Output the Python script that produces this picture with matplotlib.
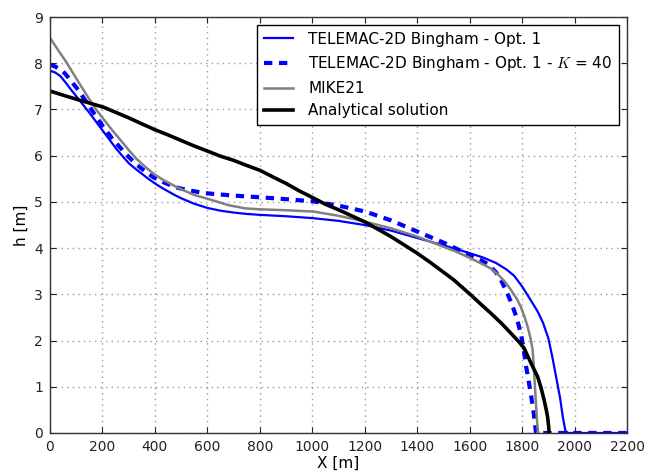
import matplotlib
matplotlib.use("Agg")
import matplotlib.pyplot as plt

plt.rcParams["font.family"] = "DejaVu Sans"
plt.rcParams["mathtext.fontset"] = "cm"

# Water depth profiles h(X)
x_opt1 = [0, 20, 40, 60, 80, 100, 125, 150, 175, 200, 225, 250, 275, 300, 325, 350, 375,
          400, 425, 450, 475, 500, 550, 600, 650, 700, 750, 800, 900, 1000, 1100, 1200,
          1300, 1400, 1450, 1500, 1550, 1600, 1650, 1700, 1740, 1770, 1800, 1830, 1860,
          1880, 1900, 1915, 1930, 1945, 1955, 1965, 1975, 2200]
h_opt1 = [7.84, 7.80, 7.72, 7.58, 7.43, 7.29, 7.11, 6.93, 6.74, 6.55, 6.36, 6.17, 6.00,
          5.84, 5.72, 5.61, 5.50, 5.40, 5.31, 5.23, 5.15, 5.08, 4.96, 4.87, 4.81, 4.77,
          4.74, 4.72, 4.69, 4.65, 4.59, 4.50, 4.38, 4.22, 4.14, 4.06, 3.98, 3.89, 3.80,
          3.68, 3.54, 3.40, 3.17, 2.90, 2.62, 2.38, 2.05, 1.65, 1.20, 0.75, 0.35, 0.05,
          0.0, 0.0]

x_k40 = [0, 20, 40, 57, 80, 108, 140, 172, 200, 236, 270, 299, 330, 363, 395, 427, 460,
         490, 540, 592, 650, 719, 802, 900, 1006, 1100, 1203, 1300, 1400, 1500, 1560,
         1600, 1640, 1670, 1700, 1720, 1740, 1760, 1780, 1795, 1805, 1815, 1825, 1835,
         1845, 1853, 2200]
h_k40 = [7.97, 7.93, 7.86, 7.78, 7.62, 7.42, 7.15, 6.88, 6.65, 6.38, 6.16, 5.98, 5.81,
         5.66, 5.53, 5.44, 5.36, 5.30, 5.24, 5.19, 5.16, 5.13, 5.10, 5.06, 5.01, 4.92,
         4.79, 4.60, 4.36, 4.12, 3.96, 3.86, 3.75, 3.65, 3.48, 3.30, 3.07, 2.80, 2.48,
         2.15, 1.85, 1.45, 1.12, 0.78, 0.40, 0.0, 0.0]

x_mike = [0, 20, 40, 57, 80, 108, 140, 172, 200, 236, 270, 299, 330, 363, 395, 427, 460,
          490, 550, 618, 680, 745, 800, 900, 1006, 1100, 1203, 1300, 1400, 1500, 1550,
          1604, 1650, 1681, 1710, 1735, 1757, 1780, 1795, 1810, 1821, 1832, 1840, 1845,
          1849, 1853, 1857, 1861]
h_mike = [8.55, 8.38, 8.21, 8.07, 7.86, 7.60, 7.31, 7.03, 6.82, 6.56, 6.33, 6.13, 5.93,
          5.76, 5.61, 5.49, 5.39, 5.30, 5.15, 5.04, 4.93, 4.86, 4.84, 4.82, 4.79, 4.70,
          4.57, 4.43, 4.25, 4.03, 3.92, 3.78, 3.65, 3.56, 3.42, 3.27, 3.10, 2.90, 2.73,
          2.50, 2.30, 2.05, 1.80, 1.40, 1.00, 0.60, 0.25, 0.0]

x_anal = [0, 50, 108, 150, 204, 250, 300, 350, 401, 450, 500, 550, 605, 650, 700, 745,
          802, 850, 900, 950, 1006, 1050, 1100, 1150, 1203, 1250, 1300, 1350, 1400, 1450,
          1500, 1540, 1570, 1604, 1640, 1681, 1720, 1757, 1790, 1808, 1825, 1845, 1859,
          1872, 1884, 1892, 1897, 1901, 1903]
h_anal = [7.40, 7.31, 7.21, 7.14, 7.05, 6.94, 6.82, 6.69, 6.56, 6.45, 6.33, 6.21, 6.09,
          5.99, 5.90, 5.80, 5.68, 5.54, 5.40, 5.24, 5.08, 4.95, 4.83, 4.70, 4.56, 4.41,
          4.25, 4.07, 3.89, 3.69, 3.48, 3.31, 3.16, 2.99, 2.80, 2.59, 2.38, 2.16, 1.96,
          1.83, 1.62, 1.38, 1.22, 0.98, 0.71, 0.50, 0.35, 0.15, 0.0]

labels = ["TELEMAC-2D Bingham - Opt. 1",
          "TELEMAC-2D Bingham - Opt. 1 - $K$ = 40",
          "MIKE21",
          "Analytical solution"]

fig = plt.figure(figsize=(6.57, 4.74), dpi=100)
ax = fig.add_axes([0.0761, 0.0865, 0.8783, 0.8775])

ax.plot(x_opt1, h_opt1, color="blue", lw=1.6, label=labels[0])
ax.plot(x_k40, h_k40, color="blue", lw=3.0, ls=(0, (2.0, 1.6)), label=labels[1])
ax.plot(x_mike, h_mike, color="gray", lw=1.8, label=labels[2])
ax.plot(x_anal, h_anal, color="black", lw=2.6, label=labels[3])

ax.set_xlim(0, 2200)
ax.set_ylim(0, 9)
ax.set_xticks(range(0, 2201, 200))
ax.set_yticks(range(0, 10))
ax.tick_params(direction="in", top=True, right=True, labelsize=10, length=4, pad=5,
               colors="#222222")
ax.grid(True, ls=(0, (1, 3)), color="#9a9a9a", lw=1.0)
for s in ax.spines.values():
    s.set_color("#333333")
    s.set_linewidth(1.0)

ax.set_xlabel("X [m]", fontsize=11, labelpad=1)
ax.set_ylabel("h [m]", fontsize=11, labelpad=4)

leg = ax.legend(loc="upper right", fontsize=11, fancybox=False, framealpha=1,
                edgecolor="black", borderaxespad=0.5, handlelength=1.9,
                handletextpad=1.0, labelspacing=0.5, borderpad=0.45)
leg.get_frame().set_linewidth(1.0)

fig.savefig("out.png", dpi=100)
